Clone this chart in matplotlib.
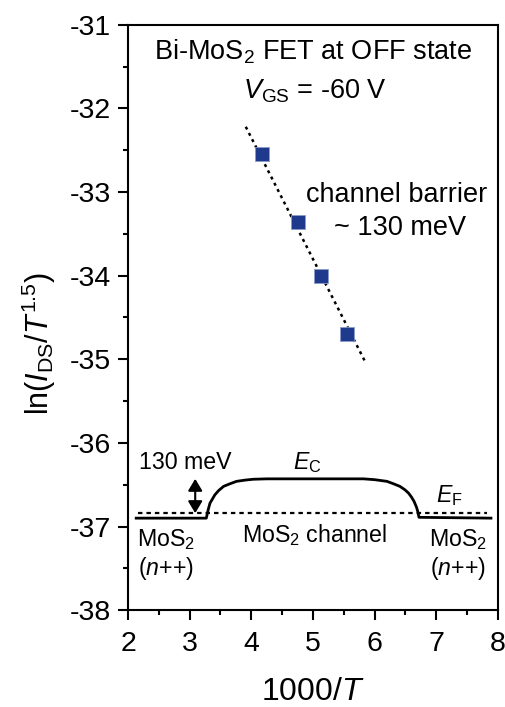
import numpy as np
import matplotlib as mp
import matplotlib.pyplot as pp

config = {'font.family': 'Liberation Sans',
          'mathtext.fontset': 'custom',
          'mathtext.rm': 'Liberation Sans',
          'mathtext.it': 'Liberation Sans:italic',
          'mathtext.bf': 'Liberation Sans:bold',
          'axes.unicode_minus': False,
          'axes.linewidth': 1.5,
          'xtick.direction': 'out',
          'ytick.direction': 'out',
          'xtick.major.size': 7.2,
          'ytick.major.size': 7.2,
          'xtick.minor.size': 3.6,
          'ytick.minor.size': 3.6,
          'xtick.major.width': 1.5,
          'ytick.major.width': 1.5,
          'xtick.minor.width': 1.5,
          'ytick.minor.width': 1.5,
          'font.size': 20}
mp.rcParams.update(**config)

# Arrhenius data, OFF state
inv_T = [4.17, 4.76, 5.13, 5.56]
ln_I = [-32.54, -33.36, -34.00, -34.70]

# guide line through the points
fit_x = [3.91, 5.84]
fit_y = [-32.22, -35.02]

# sketch of the conduction band edge along the channel
ec_x = [2.11, 3.27, 3.30, 3.33, 3.37, 3.41, 3.47, 3.55, 3.65, 3.76, 3.90, 4.03,
        4.25, 5.82, 6.00, 6.20, 6.31, 6.41, 6.49, 6.55, 6.60, 6.64, 6.68, 6.70,
        6.72, 7.91]
ec_y = [-36.90, -36.90, -36.80, -36.72, -36.67, -36.62, -36.57, -36.52, -36.49,
        -36.46, -36.445, -36.435, -36.43, -36.43, -36.44, -36.46, -36.49, -36.52,
        -36.56, -36.60, -36.65, -36.70, -36.77, -36.82, -36.89, -36.90]
ef_x = [2.16, 7.82]
ef_y = [-36.84, -36.84]
barrier_x = 3.09

fig, ax = pp.subplots(figsize=(5.06, 7.07), dpi=100)
fig.subplots_adjust(left=0.253, right=0.984, top=0.965, bottom=0.137)

ax.plot(fit_x, fit_y, color='k', lw=1.8, ls=(0, (1.2, 1.6)), zorder=2)
ax.plot(inv_T, ln_I, ls='none', marker='s', ms=9.5, mfc='#1f3a8c',
        mec='#8a9cc8', mew=0.6, zorder=3)

ax.plot(ec_x, ec_y, color='k', lw=2, solid_capstyle='butt')
ax.plot(ef_x, ef_y, color='k', lw=1.6, ls=(0, (2.0, 1.8)))
ax.annotate('', xy=(barrier_x, ef_y[0]), xytext=(barrier_x, max(ec_y)),
            arrowprops=dict(arrowstyle='<|-|>,head_length=0.55,head_width=0.33',
                            color='k', lw=1.5, mutation_scale=13,
                            shrinkA=0, shrinkB=0))

big = 19.5
small = 16.7
ax.text(5.0, -31.32, 'Bi-MoS$_2$ FET at OFF state', ha='center', va='center', fontsize=big)
ax.text(5.03, -31.8, '$V_\\mathrm{GS}$ = -60 V', ha='center', va='center', fontsize=big)
ax.text(6.35, -33.03, 'channel barrier', ha='center', va='center', fontsize=big)
ax.text(6.41, -33.43, '~ 130 meV', ha='center', va='center', fontsize=big)
ax.text(2.18, -36.23, '130 meV', ha='left', va='center', fontsize=small)
ax.text(4.91, -36.24, '$E_\\mathrm{C}$', ha='center', va='center', fontsize=small)
ax.text(7.22, -36.63, '$E_\\mathrm{F}$', ha='center', va='center', fontsize=small)
ax.text(5.03, -37.10, 'MoS$_2$ channel', ha='center', va='center', fontsize=small)
ax.text(2.62, -37.34, 'MoS$_2$\n($n$++)', ha='center', va='center', fontsize=small,
        linespacing=1.15)
ax.text(7.35, -37.34, 'MoS$_2$\n($n$++)', ha='center', va='center', fontsize=small,
        linespacing=1.15)

ax.set_xlim(2, 8)
ax.set_ylim(-38, -31)
ax.set_xticks(np.arange(2, 9, 1))
ax.set_xticks(np.arange(2.5, 8, 1), minor=True)
ax.set_yticks(np.arange(-38, -30, 1))
ax.set_yticks(np.arange(-37.5, -31, 1), minor=True)
ax.tick_params(labelsize=20.5)
ax.tick_params(axis='x', pad=8)
ax.tick_params(axis='y', pad=5)
ax.set_xlabel('1000/$T$', fontsize=23, labelpad=14)
ax.set_ylabel('ln($I_\\mathrm{DS}$/$T^{1.5}$)', fontsize=22)
ax.yaxis.set_label_coords(-0.19, 0.455)

fig.savefig('out.png', dpi=100)
